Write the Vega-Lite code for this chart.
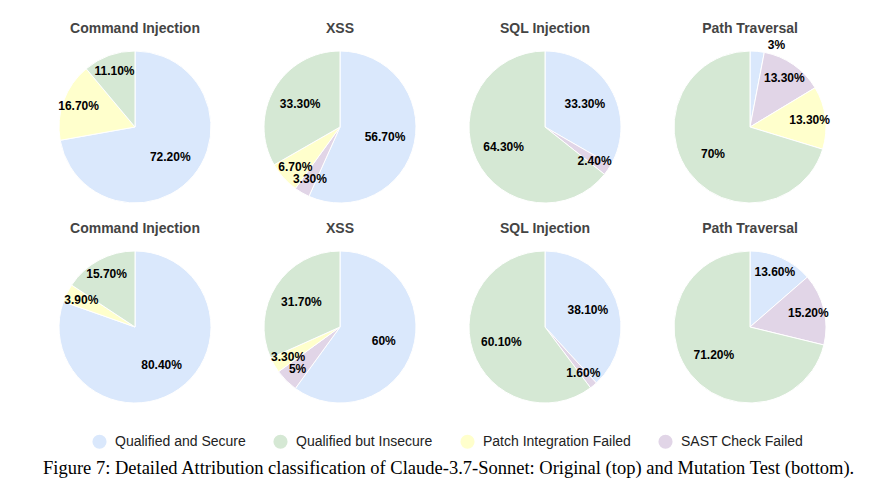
{
  "$schema": "https://vega.github.io/schema/vega-lite/v6.json",
  "background": "white",
  "padding": {"left": 40, "top": 22, "right": 5, "bottom": 5},
  "data": {
    "values": [
      {"panel": "1|Command Injection", "cat": "Qualified and Secure", "ord": 0, "value": 72.2, "label": "72.20%"},
      {"panel": "1|Command Injection", "cat": "Patch Integration Failed", "ord": 2, "value": 16.7, "label": "16.70%"},
      {"panel": "1|Command Injection", "cat": "Qualified but Insecure", "ord": 3, "value": 11.1, "label": "11.10%"},
      {"panel": "2|XSS", "cat": "Qualified and Secure", "ord": 0, "value": 56.7, "label": "56.70%"},
      {"panel": "2|XSS", "cat": "SAST Check Failed", "ord": 1, "value": 3.3, "label": "3.30%"},
      {"panel": "2|XSS", "cat": "Patch Integration Failed", "ord": 2, "value": 6.7, "label": "6.70%"},
      {"panel": "2|XSS", "cat": "Qualified but Insecure", "ord": 3, "value": 33.3, "label": "33.30%"},
      {"panel": "3|SQL Injection", "cat": "Qualified and Secure", "ord": 0, "value": 33.3, "label": "33.30%"},
      {"panel": "3|SQL Injection", "cat": "SAST Check Failed", "ord": 1, "value": 2.4, "label": "2.40%"},
      {"panel": "3|SQL Injection", "cat": "Qualified but Insecure", "ord": 3, "value": 64.3, "label": "64.30%"},
      {"panel": "4|Path Traversal", "cat": "Qualified and Secure", "ord": 0, "value": 3, "label": "3%"},
      {"panel": "4|Path Traversal", "cat": "SAST Check Failed", "ord": 1, "value": 13.3, "label": "13.30%"},
      {"panel": "4|Path Traversal", "cat": "Patch Integration Failed", "ord": 2, "value": 13.3, "label": "13.30%"},
      {"panel": "4|Path Traversal", "cat": "Qualified but Insecure", "ord": 3, "value": 70, "label": "70%"},
      {"panel": "5|Command Injection", "cat": "Qualified and Secure", "ord": 0, "value": 80.4, "label": "80.40%"},
      {"panel": "5|Command Injection", "cat": "Patch Integration Failed", "ord": 2, "value": 3.9, "label": "3.90%"},
      {"panel": "5|Command Injection", "cat": "Qualified but Insecure", "ord": 3, "value": 15.7, "label": "15.70%"},
      {"panel": "6|XSS", "cat": "Qualified and Secure", "ord": 0, "value": 60, "label": "60%"},
      {"panel": "6|XSS", "cat": "SAST Check Failed", "ord": 1, "value": 5, "label": "5%"},
      {"panel": "6|XSS", "cat": "Patch Integration Failed", "ord": 2, "value": 3.3, "label": "3.30%"},
      {"panel": "6|XSS", "cat": "Qualified but Insecure", "ord": 3, "value": 31.7, "label": "31.70%"},
      {"panel": "7|SQL Injection", "cat": "Qualified and Secure", "ord": 0, "value": 38.1, "label": "38.10%"},
      {"panel": "7|SQL Injection", "cat": "SAST Check Failed", "ord": 1, "value": 1.6, "label": "1.60%"},
      {"panel": "7|SQL Injection", "cat": "Qualified but Insecure", "ord": 3, "value": 60.1, "label": "60.10%"},
      {"panel": "8|Path Traversal", "cat": "Qualified and Secure", "ord": 0, "value": 13.6, "label": "13.60%"},
      {"panel": "8|Path Traversal", "cat": "SAST Check Failed", "ord": 1, "value": 15.2, "label": "15.20%"},
      {"panel": "8|Path Traversal", "cat": "Qualified but Insecure", "ord": 3, "value": 71.2, "label": "71.20%"}
    ]
  },
  "title": {
    "text": "Figure 7: Detailed Attribution classification of Claude-3.7-Sonnet: Original (top) and Mutation Test (bottom).",
    "orient": "bottom",
    "anchor": "start",
    "dx": 3,
    "font": "Liberation Serif",
    "fontSize": 18.5,
    "fontWeight": "normal",
    "color": "black",
    "offset": 10
  },
  "facet": {
    "field": "panel",
    "type": "nominal",
    "header": {
      "title": null,
      "labelExpr": "split(datum.value, '|')[1]",
      "labelFont": "Liberation Sans",
      "labelFontSize": 14,
      "labelFontWeight": "bold",
      "labelColor": "#444444",
      "labelPadding": -4,
      "labelBaseline": "middle",
      "labelAnchor": "middle",
      "labelAlign": "center"
    }
  },
  "columns": 4,
  "spacing": {"row": 7, "column": 15},
  "resolve": {"scale": {"theta": "independent"}},
  "spec": {
    "width": 190,
    "height": 176,
    "encoding": {
      "theta": {"field": "value", "type": "quantitative", "stack": true},
      "order": {"field": "ord", "type": "quantitative"}
    },
    "layer": [
      {
        "mark": {"type": "arc", "outerRadius": 76, "stroke": "white", "strokeWidth": 1},
        "encoding": {
          "color": {
            "field": "cat",
            "type": "nominal",
            "scale": {
              "domain": ["Qualified and Secure", "Qualified but Insecure", "Patch Integration Failed", "SAST Check Failed"],
              "range": ["#dae8fc", "#d5e8d4", "#ffffcc", "#e1d5e7"]
            },
            "legend": {
              "title": null,
              "orient": "none",
              "direction": "horizontal",
              "legendX": 52,
              "legendY": 395,
              "symbolType": "circle",
              "symbolSize": 200,
              "symbolStrokeWidth": 0,
              "labelFont": "Liberation Sans",
              "labelFontSize": 14,
              "labelColor": "#222222",
              "labelOffset": 8,
              "columnPadding": 27
            }
          }
        }
      },
      {
        "mark": {"type": "text", "radius": 46, "font": "Liberation Sans", "fontWeight": "bold", "fontSize": 12},
        "encoding": {
          "detail": {"field": "cat"},
          "color": {"value": "black"},
          "text": {"condition": {"test": "datum.value < 20", "value": ""}, "field": "label"}
        }
      },
      {
        "mark": {"type": "text", "radius": 60, "font": "Liberation Sans", "fontWeight": "bold", "fontSize": 12},
        "encoding": {
          "detail": {"field": "cat"},
          "color": {"value": "black"},
          "text": {"condition": {"test": "datum.value >= 20 || datum.value == 3", "value": ""}, "field": "label"}
        }
      },
      {
        "mark": {"type": "text", "radius": 82, "align": "left", "dx": 10, "font": "Liberation Sans", "fontWeight": "bold", "fontSize": 12},
        "encoding": {
          "detail": {"field": "cat"},
          "color": {"value": "black"},
          "text": {"condition": {"test": "datum.value != 3", "value": ""}, "field": "label"}
        }
      }
    ]
  },
  "config": {
    "view": {"stroke": null}
  }
}
